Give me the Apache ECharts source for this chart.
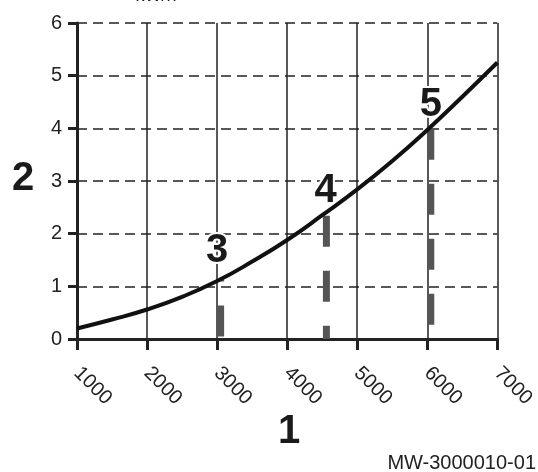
<!DOCTYPE html>
<html><head><meta charset="utf-8">
<script src="https://cdn.jsdelivr.net/npm/echarts@6/dist/echarts.min.js"></script>
<style>html,body{margin:0;padding:0;background:#fff}#c{width:538px;height:472px}</style>
</head><body><div id="c"></div>
<script>
// data
const curveX = [1000,1500,2000,2500,3000,3500,4000,4500,5000,5500,6000,6500,7000];
const curveY = [0.2,0.37,0.56,0.8,1.1,1.47,1.88,2.35,2.84,3.38,3.97,4.6,5.25];
const markerNames = ['3','4','5'];
const markerX = [3050,4560,6050];
const markerTop = [1.13,2.34,3.99];
const labelX = [3000,4550,6050];
const labelY = [1.68,2.81,4.45];
const xAxisTitle = '1';
const yAxisTitle = '2';
const figureCode = 'MW-3000010-01';
const topCutText = 'kW/h';

const FONT = "Liberation Sans, Arial, sans-serif";
const chart = echarts.init(document.getElementById('c'), null, {renderer:'canvas'});

const markerDashOffset = [29, 0, 0];
const markerSeries = markerX.map((x,i)=>({
  type:'line', data:[[x, markerTop[i]],[x,0]], symbol:'none', silent:true, z:3,
  lineStyle:{color:'#555', width:7, type:[31,24], dashOffset:markerDashOffset[i], cap:'butt'}
}));

chart.setOption({
  animation:false,
  grid:{left:77, right:40, top:23, bottom:133},
  xAxis:{type:'value', min:1000, max:7000, interval:1000,
    axisLine:{lineStyle:{color:'#222', width:3}},
    axisTick:{show:true, length:11, lineStyle:{color:'#222', width:3}},
    axisLabel:{rotate:-45, margin:31, color:'#222', fontSize:20, fontFamily:FONT, formatter:v=>String(v)},
    splitLine:{show:true, lineStyle:{color:'#222', width:1.5, type:'solid'}}
  },
  yAxis:{type:'value', min:0, max:6, interval:1,
    axisLine:{show:true, lineStyle:{color:'#222', width:3}},
    axisTick:{show:true, length:9, lineStyle:{color:'#222', width:3}},
    axisLabel:{margin:15, color:'#222', fontSize:20, fontFamily:FONT},
    splitLine:{show:true, lineStyle:{color:'#222', width:1.5, type:[10,6]}}
  },
  series:[
    ...markerSeries,
    {type:'line', data:curveX.map((x,i)=>[x,curveY[i]]), smooth:true, symbol:'none', z:4,
      lineStyle:{color:'#111', width:4}},
    {type:'scatter', symbolSize:0, z:5, itemStyle:{opacity:1}, data:labelX.map((x,i)=>[x,labelY[i]]),
      label:{show:true, position:'inside', opacity:1, formatter:p=>markerNames[p.dataIndex],
        fontSize:40, fontWeight:'bold', color:'#1a1a1a', fontFamily:FONT,
        textBorderColor:'#fff', textBorderWidth:4}}
  ],
  graphic:[
    {type:'text', style:{text:xAxisTitle, x:289, y:432, align:'center', verticalAlign:'middle', font:"bold 40px "+FONT, fill:'#1a1a1a'}},
    {type:'text', style:{text:yAxisTitle, x:23, y:179, align:'center', verticalAlign:'middle', font:"bold 40px "+FONT, fill:'#1a1a1a'}},
    {type:'text', style:{text:figureCode, x:536, y:463, align:'right', verticalAlign:'middle', font:"20px "+FONT, fill:'#222'}},
    {type:'text', style:{text:topCutText, x:156, y:-4, align:'center', verticalAlign:'middle', font:"18px "+FONT, fill:'#222'}}
  ]
});
</script></body></html>
